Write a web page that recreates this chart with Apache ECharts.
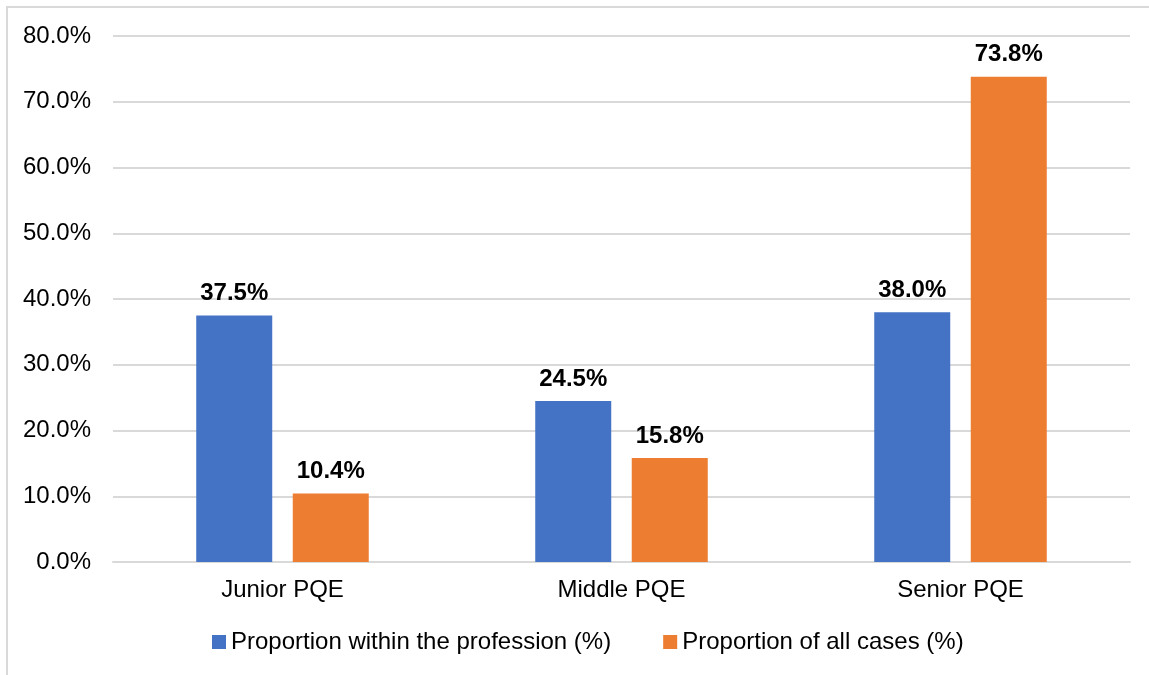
<!DOCTYPE html>
<html>
<head>
<meta charset="utf-8">
<script src="https://cdn.jsdelivr.net/npm/echarts@6/dist/echarts.min.js"></script>
<style>
  html, body { margin: 0; padding: 0; background: #fff; }
  #chart { width: 1149px; height: 675px; }
</style>
</head>
<body>
<div id="chart"></div>
<script>
// PQE bands and the two proportions reported for each
const categories = ['Junior PQE', 'Middle PQE', 'Senior PQE'];
const withinProfession = [37.5, 24.5, 38.0];
const allCases = [10.4, 15.8, 73.8];
const seriesNames = ['Proportion within the profession (%)', 'Proportion of all cases (%)'];

const FONT = '"Liberation Sans", Arial, sans-serif';
const pct = v => Number(v).toFixed(1) + '%';

const labelStyle = {
  show: true,
  position: 'top',
  distance: 10,
  formatter: p => pct(p.value),
  fontFamily: FONT,
  fontSize: 24,
  fontWeight: 'bold',
  color: '#000'
};

const chart = echarts.init(document.getElementById('chart'), null, { renderer: 'canvas' });
chart.setOption({
  animation: false,
  backgroundColor: '#fff',
  graphic: [{
    type: 'rect',
    shape: { x: 7, y: 7, width: 1300, height: 800 },
    style: { fill: 'none', stroke: '#d9d9d9', lineWidth: 2 },
    silent: true,
    z: -1
  }],
  grid: { left: 113, right: 19, top: 36, bottom: 113, containLabel: false },
  legend: {
    left: 207,
    top: 625,
    itemWidth: 14,
    itemHeight: 14,
    itemGap: 52,
    icon: 'rect',
    textStyle: { fontFamily: FONT, fontSize: 24, color: '#000' },
    data: seriesNames
  },
  xAxis: {
    type: 'category',
    data: categories,
    axisLine: { show: true, lineStyle: { color: '#d9d9d9', width: 2 } },
    axisTick: { show: false },
    axisLabel: { margin: 16, fontFamily: FONT, fontSize: 24, color: '#000' }
  },
  yAxis: {
    type: 'value',
    min: 0,
    max: 80,
    interval: 10,
    axisLine: { show: false },
    axisTick: { show: false },
    splitLine: { lineStyle: { color: '#d9d9d9', width: 2 } },
    axisLabel: { margin: 22, formatter: pct, fontFamily: FONT, fontSize: 24, color: '#000' }
  },
  series: [
    {
      name: seriesNames[0],
      type: 'bar',
      data: withinProfession,
      barWidth: 76,
      barGap: '27%',
      itemStyle: { color: '#4472C4' },
      label: labelStyle
    },
    {
      name: seriesNames[1],
      type: 'bar',
      data: allCases,
      barWidth: 76,
      barGap: '27%',
      itemStyle: { color: '#ED7D31' },
      label: labelStyle
    }
  ]
});
</script>
</body>
</html>
